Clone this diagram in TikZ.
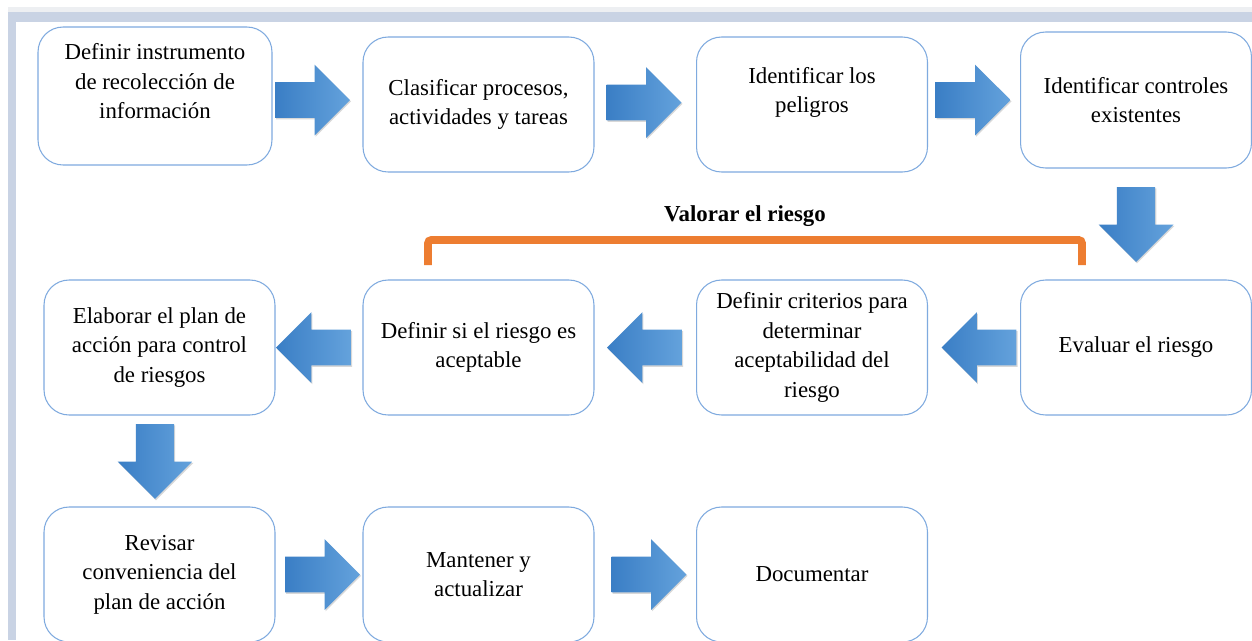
\documentclass[tikz,border=0pt]{standalone}
\usepackage{fontspec}
\setmainfont{Liberation Serif}
\usepackage{tikz}
\usetikzlibrary{shapes.arrows,shadows,calc}
\definecolor{boxline}{HTML}{7FAADF}
\definecolor{arrowdark}{HTML}{3A7EC5}
\definecolor{arrowlight}{HTML}{64A2DC}
\definecolor{framebar}{HTML}{C9D3E4}
\definecolor{framegrey}{HTML}{EDEFF2}
\definecolor{bracket}{HTML}{ED7D31}
\tikzset{stepbox/.style={black,draw=boxline,fill=white,rectangle,rounded corners=0.5cm,line width=0.6pt,minimum width=4.62cm,minimum height=2.7cm,align=center,font=\fontsize{13}{16.8}\selectfont}}
\tikzset{blockarrow/.style={single arrow,draw=none,anchor=tip,left color=arrowdark,right color=arrowlight,minimum height=1.5cm,inner xsep=0pt,inner ysep=0.35cm,single arrow head extend=0.35cm,drop shadow={shadow xshift=0.6pt,shadow yshift=-0.8pt,opacity=0.3}}}
\tikzset{downarrow/.style={blockarrow,shape border rotate=270,inner xsep=0.36cm,inner ysep=0pt,minimum width=1.5cm}}
\tikzset{leftarrow/.style={blockarrow,shape border rotate=180}}
\tikzset{bracketline/.style={draw=bracket,line width=4.5pt,rounded corners=2pt}}

\begin{document}
\begin{tikzpicture}[x=0.02cm,y=-0.02cm]
    \useasboundingbox (0,0) rectangle (1252,640);
    \fill[white] (0,0) rectangle (1252,640);
    \fill[framegrey] (8,7) rectangle (1252,12);
    \fill[framebar] (8,12) rectangle (1252,22);
    \fill[framebar] (8,12) rectangle (16,640);

    \node[stepbox,minimum width=4.68cm,minimum height=2.76cm] (b1) at (155,96)
    {Definir instrumento\\de recolección de\\información\\\mbox{}};

    \node[stepbox] (b2) at (478.5,104.5) {Clasificar procesos,\\actividades y tareas};

    \node[stepbox] (b3) at (812,104.5) {Identificar los\\peligros\\\mbox{}};

    \node[stepbox,minimum height=2.72cm] (b4) at (1136,100) {Identificar controles\\existentes};

    \node[stepbox] (b5) at (159.5,347.5) {Elaborar el plan de\\acción para control\\de riesgos};

    \node[stepbox] (b6) at (478.5,347.5) {Definir si el riesgo es\\aceptable};

    \node[stepbox] (b7) at (812,347.5)
    {Definir criterios para\\determinar\\aceptabilidad del\\riesgo};

    \node[stepbox] (b8) at (1136,347.5) {Evaluar el riesgo};

    \node[stepbox] (b9) at (159.5,574.5) {Revisar\\conveniencia del\\plan de acción};

    \node[stepbox] (b10) at (478.5,574.5) {Mantener y\\actualizar};

    \node[stepbox] (b11) at (812,574.5) {Documentar};

    \node[blockarrow] (a1) at ($(b2.west)+(-12,-4.5)$) {};
    \node[blockarrow] (a2) at ($(b3.west)+(-14,-2)$) {};
    \node[blockarrow] (a3) at ($(b4.west)+(-9,0)$) {};
    \node[downarrow] (a4) at ($(b8.north)+(0,-17)$) {};
    \node[leftarrow] (a5) at ($(b7.east)+(13,0)$) {};
    \node[leftarrow] (a6) at ($(b6.east)+(12,0)$) {};
    \node[leftarrow] (a7) at ($(b5.east)+(0,0)$) {};
    \node[downarrow] (a8) at ($(b9.north)+(-4.5,-7)$) {};
    \node[blockarrow] (a9) at ($(b10.west)+(-2,0)$) {};
    \node[blockarrow] (a10) at ($(b11.west)+(-9,0)$) {};

    \coordinate (brleft) at (428,265);
    \coordinate (brright) at (1082,265);
    \coordinate (brtop) at (755,240);
    \draw[bracketline] (brleft) |- (brtop) -| (brright);

    \node[font=\fontsize{13}{16}\selectfont\bfseries] (valorar) at (745,216) {Valorar el riesgo};

  \end{tikzpicture}
\end{document}
